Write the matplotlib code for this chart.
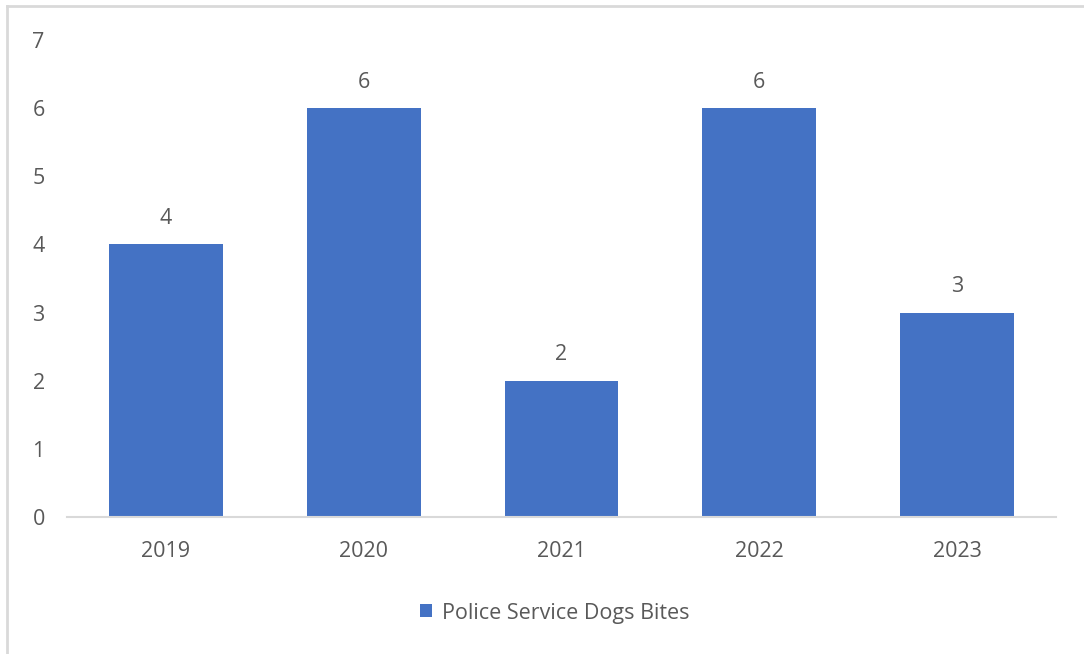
import matplotlib
matplotlib.use("Agg")
import matplotlib.pyplot as plt
from matplotlib.lines import Line2D

years = ["2019", "2020", "2021", "2022", "2023"]
bites = [4, 6, 2, 6, 3]
series_name = "Police Service Dogs Bites"

BAR_COLOR = "#4472C4"
TEXT_COLOR = "#595959"
AXIS_COLOR = "#D9D9D9"
FS = 15.5

plt.rcParams["font.family"] = ["Open Sans", "DejaVu Sans"]

W, H = 1084, 654
fig = plt.figure(figsize=(W / 100, H / 100), dpi=100)
ax = fig.add_axes([67 / W, 1 - 517 / H, (1056 - 67) / W, (517 - 40) / H])

x = list(range(len(years)))
bars = ax.bar(x, bites, width=0.576, color=BAR_COLOR, label=series_name, zorder=2)

ax.set_xlim(-0.5, len(years) - 0.5)
ax.set_ylim(0, 7)
ax.set_yticks(range(0, 8))
ax.set_xticks(x)
ax.set_xticklabels(years)

for s in ["top", "right", "left"]:
    ax.spines[s].set_visible(False)
ax.spines["bottom"].set_color(AXIS_COLOR)
ax.spines["bottom"].set_linewidth(1.5)

ax.tick_params(axis="both", length=0, labelsize=FS, labelcolor=TEXT_COLOR)
ax.tick_params(axis="y", pad=16)
ax.tick_params(axis="x", pad=17)

for rect, v in zip(bars, bites):
    ax.annotate(str(v), (rect.get_x() + rect.get_width() / 2, v),
                xytext=(0, 11), textcoords="offset points",
                ha="center", va="bottom", fontsize=FS, color=TEXT_COLOR)

leg = fig.legend(handles=[bars], labels=[series_name], loc="center",
                 bbox_to_anchor=(555 / W, 1 - 613 / H), frameon=False,
                 fontsize=FS, handlelength=0.55, handleheight=0.55,
                 handletextpad=0.45)
for t in leg.get_texts():
    t.set_color(TEXT_COLOR)

# outer chart frame (top and left edges)
fig.add_artist(Line2D([7 / W, 1.0], [1 - 6 / H, 1 - 6 / H],
                      transform=fig.transFigure, color=AXIS_COLOR, lw=2))
fig.add_artist(Line2D([7 / W, 7 / W], [0, 1 - 6 / H],
                      transform=fig.transFigure, color=AXIS_COLOR, lw=2))

fig.savefig("out.png", dpi=100, facecolor="white")
